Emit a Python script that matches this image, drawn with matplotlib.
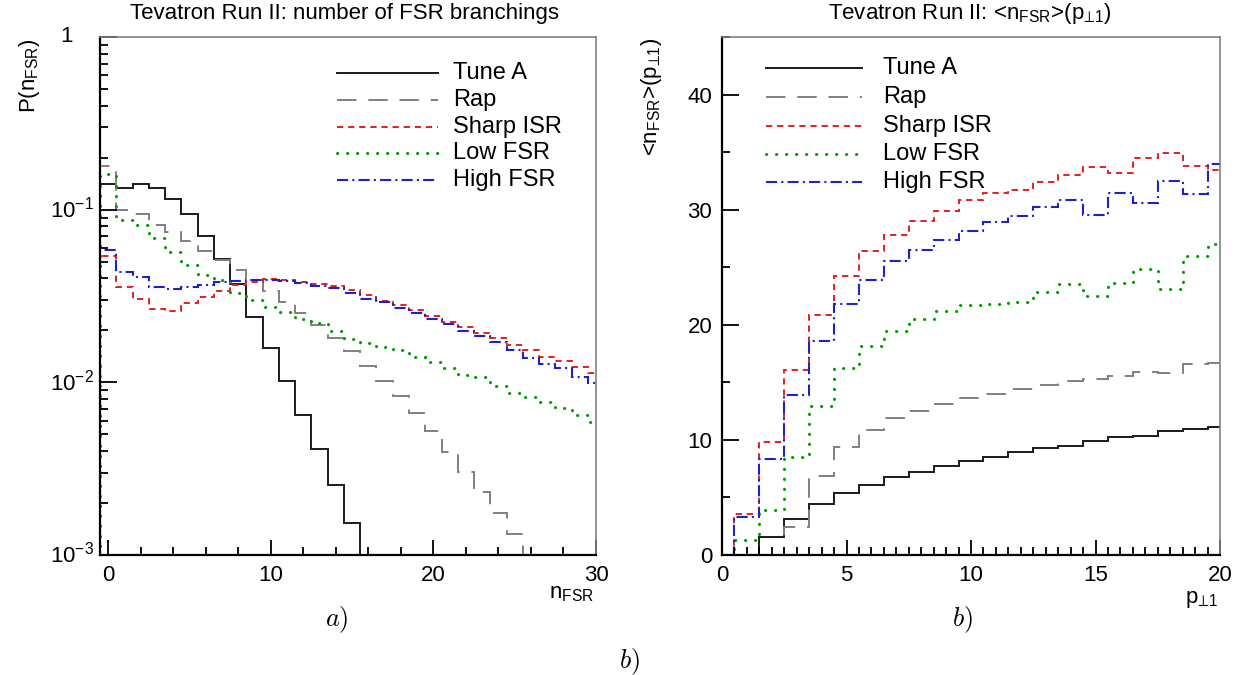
import matplotlib
matplotlib.use('Agg')
import matplotlib.pyplot as plt
import numpy as np
from matplotlib.lines import Line2D
from matplotlib.ticker import FixedLocator, NullFormatter, MultipleLocator

plt.rcParams.update({
    'font.family': ['Liberation Sans', 'DejaVu Sans'],
    'mathtext.fontset': 'custom',
    'mathtext.rm': 'Liberation Sans',
    'mathtext.it': 'Liberation Sans:italic',
    'mathtext.bf': 'Liberation Sans:bold',
    'mathtext.sf': 'Liberation Sans',
    'mathtext.fallback': 'stixsans',
    'lines.scale_dashes': False,
})

# ---------------- data ----------------
series_names = ['Tune A', 'Rap', 'Sharp ISR', 'Low FSR', 'High FSR']

# (a) P(n_FSR), bins centred on integers 0,1,2,...
tuneA_n = [0.141, 0.134, 0.141, 0.134, 0.116, 0.094, 0.0705, 0.0516, 0.037, 0.024,
           0.0159, 0.0102, 0.0065, 0.0041, 0.00256, 0.00154]
rap_n = [0.18, 0.099, 0.094, 0.082, 0.0743, 0.0662, 0.058, 0.051, 0.0448, 0.039,
         0.034, 0.0293, 0.0253, 0.0215, 0.018, 0.0152, 0.0124, 0.0102, 0.00834, 0.0066,
         0.0052, 0.00397, 0.00304, 0.00233, 0.00176, 0.00132]
sharp_n = [0.054, 0.0358, 0.0303, 0.0265, 0.026, 0.0287, 0.0313, 0.0338, 0.0367, 0.0383,
           0.0395, 0.039, 0.0383, 0.037, 0.0361, 0.0343, 0.032, 0.0297, 0.028, 0.0262,
           0.0242, 0.0225, 0.0209, 0.0194, 0.018, 0.0165, 0.0154, 0.0141, 0.0133, 0.0122, 0.0114]
low_n = [0.161, 0.087, 0.0815, 0.0683, 0.0571, 0.0479, 0.0419, 0.0392, 0.0328, 0.030,
         0.0272, 0.0255, 0.0232, 0.022, 0.0197, 0.0178, 0.0168, 0.0161, 0.0154, 0.0141,
         0.0132, 0.0121, 0.0111, 0.0107, 0.00953, 0.00871, 0.00826, 0.00773, 0.00707, 0.00647, 0.00587]
high_n = [0.0585, 0.0438, 0.0406, 0.0358, 0.0349, 0.0355, 0.0367, 0.0381, 0.0388, 0.039,
          0.039, 0.0386, 0.0375, 0.036, 0.035, 0.0328, 0.0303, 0.029, 0.0269, 0.0251,
          0.0232, 0.0217, 0.0199, 0.0186, 0.0172, 0.0153, 0.0138, 0.0128, 0.0121, 0.0107, 0.00996]

# (b) <n_FSR>(p_perp1), bins centred on integers 0..20
tuneA_p = [0, 0, 1.54, 3.13, 4.43, 5.36, 6.09, 6.75, 7.25, 7.74, 8.17, 8.52, 8.96, 9.33,
           9.51, 9.94, 10.23, 10.38, 10.81, 10.96, 11.16]
rap_p = [0, 0, 0, 2.46, 6.87, 9.42, 10.87, 11.88, 12.52, 13.13, 13.62, 14.0, 14.43, 14.78,
         15.13, 15.33, 15.59, 15.86, 15.77, 16.61, 16.7]
sharp_p = [0, 3.57, 9.8, 16.03, 20.87, 24.2, 26.37, 27.83, 29.04, 29.91, 30.87, 31.45, 31.68,
           32.43, 33.04, 33.68, 33.16, 34.49, 34.93, 33.83, 33.48]
low_p = [0, 1.3, 3.91, 8.49, 12.96, 16.23, 18.12, 19.48, 20.52, 21.22, 21.68, 21.8, 21.94,
         22.87, 23.57, 22.46, 23.62, 24.84, 23.1, 26.0, 27.02]
high_p = [0, 3.28, 8.35, 13.91, 18.61, 21.83, 23.91, 25.51, 26.52, 27.39, 28.17, 28.93, 29.48,
          30.23, 30.87, 29.57, 31.45, 30.58, 32.46, 31.36, 33.97]

left_yticks = [1e-3, 1e-2, 1e-1, 1]
left_yticklabels = [r'$\mathregular{10^{-3}}$', r'$\mathregular{10^{-2}}$', r'$\mathregular{10^{-1}}$', '1']

# ---------------- styles ----------------
styles = {
    'Tune A': dict(edgecolor='#1a1a1a', linestyle='-', linewidth=1.4),
    'Rap': dict(edgecolor='#808080', linestyle=(0, (14, 8.5)), linewidth=1.4),
    'Sharp ISR': dict(edgecolor='#e02020', linestyle=(0, (4.5, 3.5)), linewidth=1.4),
    'Low FSR': dict(edgecolor='#00a000', linestyle=(0, (0.2, 7.0)), linewidth=2.2, capstyle='round'),
    'High FSR': dict(edgecolor='#2020c8', linestyle=(0, (8, 3, 1.5, 3)), linewidth=1.5),
}

W, H = 1244, 675
fig = plt.figure(figsize=(W / 100, H / 100), dpi=100)


def fx(x):
    return x / W


def fy(y):
    return 1 - y / H


ax1 = fig.add_axes([fx(100), fy(555), (596 - 100) / W, (555 - 37) / H])
ax2 = fig.add_axes([fx(722), fy(555), (1220 - 722) / W, (555 - 37) / H])

data_n = [tuneA_n, rap_n, sharp_n, low_n, high_n]
data_p = [tuneA_p, rap_p, sharp_p, low_p, high_p]

for name, vals in zip(series_names, data_n):
    v = np.array(vals)
    edges = np.arange(len(v) + 1) - 0.5
    ax1.stairs(v, edges, baseline=1e-6, fill=False, **styles[name])

for name, vals in zip(series_names, data_p):
    v = np.array(vals)
    edges = np.arange(len(v) + 1) - 0.5
    ax2.stairs(v, edges, baseline=0, fill=False, **styles[name])

# ---- axis 1 ----
ax1.set_yscale('log')
ax1.set_xlim(-0.5, 30)
ax1.set_ylim(1e-3, 1)
ax1.yaxis.set_major_locator(FixedLocator(left_yticks))
ax1.yaxis.set_minor_locator(FixedLocator([m * 10.0 ** e for e in (-3, -2, -1) for m in range(2, 10)]))
ax1.yaxis.set_major_formatter(NullFormatter())
ax1.yaxis.set_minor_formatter(NullFormatter())
ax1.xaxis.set_major_locator(MultipleLocator(10))
ax1.xaxis.set_minor_locator(MultipleLocator(2))

# ---- axis 2 ----
ax2.set_xlim(0, 20)
ax2.set_ylim(0, 45)
ax2.xaxis.set_major_locator(MultipleLocator(5))
ax2.xaxis.set_minor_locator(MultipleLocator(0.5))
ax2.yaxis.set_major_locator(MultipleLocator(10))
ax2.yaxis.set_minor_locator(MultipleLocator(5))

for ax in (ax1, ax2):
    for s in ('left', 'bottom'):
        ax.spines[s].set_linewidth(1.6)
        ax.spines[s].set_color('black')
    for s in ('top', 'right'):
        ax.spines[s].set_linewidth(1.2)
        ax.spines[s].set_color('#808080')
    ax.tick_params(which='both', direction='in', top=False, right=False, width=1.3,
                   labelsize=16, colors='black')
    ax.tick_params(axis='x', which='major', length=11, pad=7)
    ax.tick_params(axis='x', which='minor', length=5.5)
    ax.tick_params(axis='y', which='major', length=12, pad=7)
    ax.tick_params(axis='y', which='minor', length=6)

# manual log labels (ROOT style)
for val, lab in zip(left_yticks, left_yticklabels):
    if lab == '1':
        ax1.text((73 - 100) / 496, val, lab, transform=ax1.get_yaxis_transform(),
                 ha='right', va='center', fontsize=16)
    else:
        ax1.text((94 - 100) / 496, val, lab, transform=ax1.get_yaxis_transform(),
                 ha='right', va='center', fontsize=16)

# ---- titles & labels ----
PERP = r'p$_{\mathregular{\u22a51}}$'.replace(r'\u22a5', '\u22a5')
fig.text(fx(345), fy(13), 'Tevatron Run II: number of FSR branchings', ha='center', va='center', fontsize=16)
fig.text(fx(970), fy(13), r'Tevatron Run II: <n$_{\mathregular{FSR}}$>(' + PERP + ')',
         ha='center', va='center', fontsize=16)
fig.text(fx(30), fy(38), r'P(n$_{\mathregular{FSR}}$)', rotation=90, ha='center', va='top', fontsize=16)
fig.text(fx(652), fy(38), r'<n$_{\mathregular{FSR}}$>(' + PERP + ')', rotation=90,
         ha='center', va='top', fontsize=16)
fig.text(fx(594), fy(593), r'n$_{\mathregular{FSR}}$', ha='right', va='center', fontsize=16)
fig.text(fx(1218), fy(600), PERP, ha='right', va='center', fontsize=16)

fig.text(fx(337), fy(620), r'$a)$', ha='center', va='center', fontsize=19, math_fontfamily='cm')
fig.text(fx(962), fy(620), r'$b)$', ha='center', va='center', fontsize=19, math_fontfamily='cm')
fig.text(fx(629), fy(662), r'$b)$', ha='center', va='center', fontsize=19, math_fontfamily='cm')

# ---- legends (frameless, ROOT-like) ----
def draw_legend(x0, x1, xt, ys):
    for name, y in zip(series_names, ys):
        st = styles[name]
        ln = Line2D([fx(x0), fx(x1)], [fy(y), fy(y)], transform=fig.transFigure,
                    color=st['edgecolor'], linestyle=st['linestyle'], linewidth=st['linewidth'],
                    dash_capstyle=st.get('capstyle', 'butt'))
        fig.add_artist(ln)
        fig.text(fx(xt), fy(y), name, ha='left', va='center', fontsize=17)


draw_legend(337, 438, 453, [73, 100, 127, 153, 180])
draw_legend(766, 862, 883, [68, 97, 126, 154, 182])

fig.savefig('out.png', dpi=100)
